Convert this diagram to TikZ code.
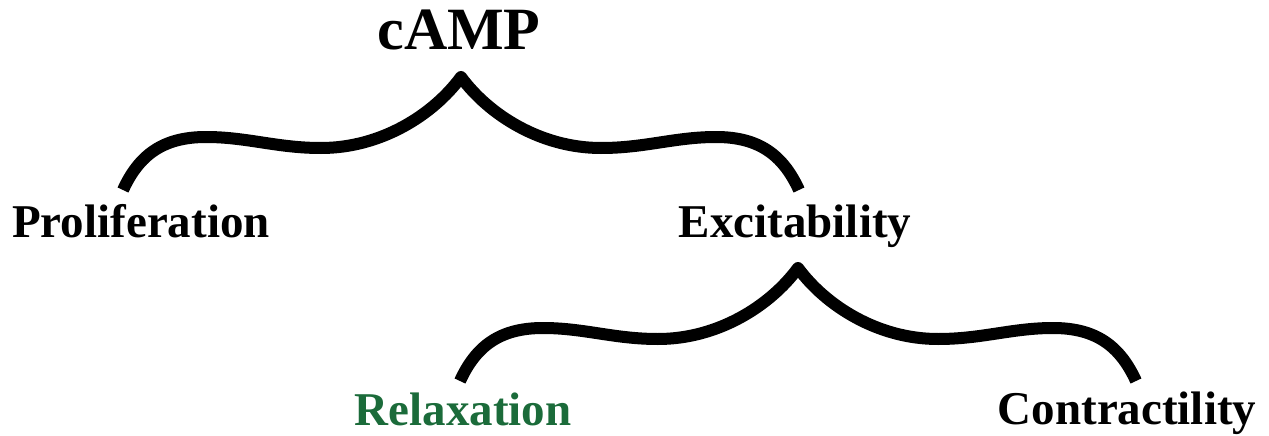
\documentclass[tikz,border=0pt]{standalone}
\usepackage{fontspec}
\setmainfont{Liberation Serif}
\usepackage{xcolor}
\usetikzlibrary{positioning}
\definecolor{verdeoscuro}{HTML}{1B6B3A}
\tikzset{
  etiqueta/.style={font=\bfseries\fontsize{47}{54}\selectfont, anchor=base, inner sep=0pt},
  raiz/.style={font=\bfseries\fontsize{60}{68}\selectfont, anchor=base, inner sep=0pt},
  llave/.style={line width=12pt, line join=round, black},
  llavepic/.pic={
    \draw[llave] (-338,113) .. controls (-322,78) and (-298,60) .. (-255,60)
      .. controls (-214,60) and (-184,71) .. (-140,71)
      .. controls (-80,71) and (-28,38) .. (0,0)
      .. controls (28,38) and (80,71) .. (140,71)
      .. controls (184,71) and (214,60) .. (255,60)
      .. controls (298,60) and (322,78) .. (338,113);
  }
}
\begin{document}
\begin{tikzpicture}[x=1pt, y=-1pt]
  \useasboundingbox (0,0) rectangle (1269,436);

  % --- Nivel 1 ---
  \node[raiz] (camp) at (459,50) {cAMP};
  \node[etiqueta] (prolif) at (141,237) {Proliferation};
  \node[etiqueta] (excit) at (795,237) {Excitability};

  % --- Nivel 2 ---
  \node[etiqueta, text=verdeoscuro] (relax) at (463,425) {Relaxation};
  \node[etiqueta] (contr) at (1127,424) {Contractility};

  % --- Llaves ---
  \coordinate (punta1) at (461,77);
  \coordinate (punta2) at (798,268);
  \pic at (punta1) {llavepic};
  \pic at (punta2) {llavepic};

\end{tikzpicture}
\end{document}
